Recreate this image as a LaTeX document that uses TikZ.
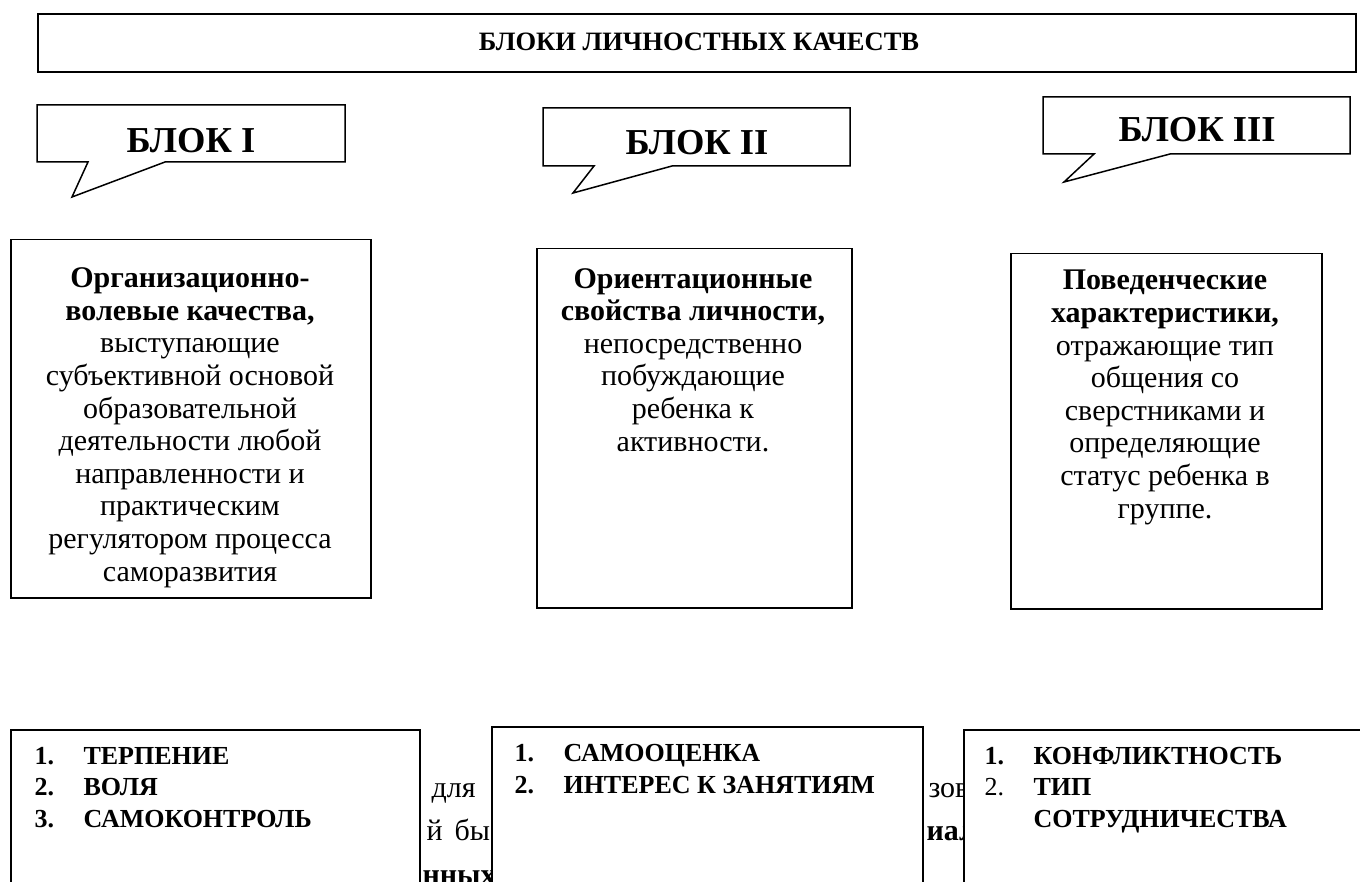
\documentclass[tikz,border=0pt]{standalone}
\usepackage{fontspec}
\setmainfont{Liberation Serif}
\usetikzlibrary{positioning}

\newcommand{\itm}[2]{\makebox[49pt][l]{#1}#2}

\begin{document}
\begin{tikzpicture}[x=1pt, y=-1pt,
  frame/.style={draw, line width=1.5pt, fill=white, inner sep=0pt, anchor=north west},
  callout/.style={draw, line width=1.5pt, fill=white, line join=miter},
  txt/.style={align=center, anchor=base, font=\fontsize{30}{32.6}\selectfont},
  blk/.style={anchor=base, font=\fontsize{36.5}{40}\selectfont\bfseries},
  lst/.style={align=left, anchor=base west, font=\fontsize{26}{31.3}\selectfont\bfseries},
  frag/.style={anchor=base west, font=\fontsize{30}{32}\selectfont}]
  \clip (0,0) rectangle (1360,882);
  % Title box
  \node[frame, line width=2.2pt, minimum width=1318pt, minimum height=58pt] (title) at (37,13) {};
  \node[anchor=base, font=\fontsize{26.5}{30}\selectfont\bfseries] (titletxt) at (699,51) {БЛОКИ ЛИЧНОСТНЫХ КАЧЕСТВ};
  % Speech bubbles with block names
  \coordinate (tip1) at (72,197);
  \coordinate (tip2) at (573,193);
  \coordinate (tip3) at (1064,182);
  \draw[callout] (37,105) -- (345,105) -- (345,162) -- (165,162) -- (tip1) -- (88,162) -- (37,162) -- cycle;
  \draw[callout] (543,108) -- (850,108) -- (850,166) -- (672,166) -- (tip2) -- (594,166) -- (543,166) -- cycle;
  \draw[callout] (1043,97) -- (1350,97) -- (1350,154) -- (1170,154) -- (tip3) -- (1094,154) -- (1043,154) -- cycle;
  \node[blk] (blk1) at (191,153) {БЛОК I};
  \node[blk] (blk2) at (697,155) {БЛОК II};
  \node[blk] (blk3) at (1197,142) {БЛОК III};
  % Descriptions of the blocks (placed by the baseline of the last line)
  \node[frame, minimum width=360pt, minimum height=358pt] (orgbox) at (10,239) {};
  \node[frame, minimum width=315pt, minimum height=359pt] (orbox) at (536,248) {};
  \node[frame, minimum width=311pt, minimum height=355pt] (behbox) at (1010,253) {};
  \node[txt] (orgtxt) at (190,581) {\textbf{Организационно-}\\ \textbf{волевые качества,}\\ выступающие\\ субъективной основой\\ образовательной\\ деятельности любой\\ направленности и\\ практическим\\ регулятором процесса\\ саморазвития};
  \node[txt] (ortxt) at (693,451) {\textbf{Ориентационные}\\ \textbf{свойства личности,}\\ непосредственно\\ побуждающие\\ ребенка к\\ активности.};
  \node[txt] (behtxt) at (1165,518) {\textbf{Поведенческие}\\ \textbf{характеристики,}\\ отражающие тип\\ общения со\\ сверстниками и\\ определяющие\\ статус ребенка в\\ группе.};
  % Text of the page behind the lists
  \node[frag] (frag1) at (428,797) {для};
  \node[frag] (frag2) at (423,840) {й\hspace{12pt}бы};
  \node[frag, font=\fontsize{30}{32}\selectfont\bfseries] (frag3) at (404,884) {анных};
  \node[frag] (frag4) at (925,797) {зов};
  \node[frag, font=\fontsize{30}{32}\selectfont\bfseries] (frag5) at (923,840) {иал};
  % Lists of qualities
  \node[frame, minimum width=409pt, minimum height=200pt] (list1) at (10,729) {};
  \node[frame, minimum width=431pt, minimum height=200pt] (list2) at (491,726) {};
  \node[frame, minimum width=420pt, minimum height=200pt] (list3) at (963,729) {};
  \node[lst] (list1txt) at (31,827) {\itm{1.}{ТЕРПЕНИЕ}\\ \itm{2.}{ВОЛЯ}\\ \itm{3.}{САМОКОНТРОЛЬ}};
  \node[lst] (list2txt) at (511,793) {\itm{1.}{САМООЦЕНКА}\\ \itm{2.}{ИНТЕРЕС К ЗАНЯТИЯМ}};
  \node[lst] (list3txt) at (981,827) {\itm{1.}{КОНФЛИКТНОСТЬ}\\ \itm{\mdseries 2.}{ТИП}\\ \itm{}{СОТРУДНИЧЕСТВА}};
\end{tikzpicture}
\end{document}
